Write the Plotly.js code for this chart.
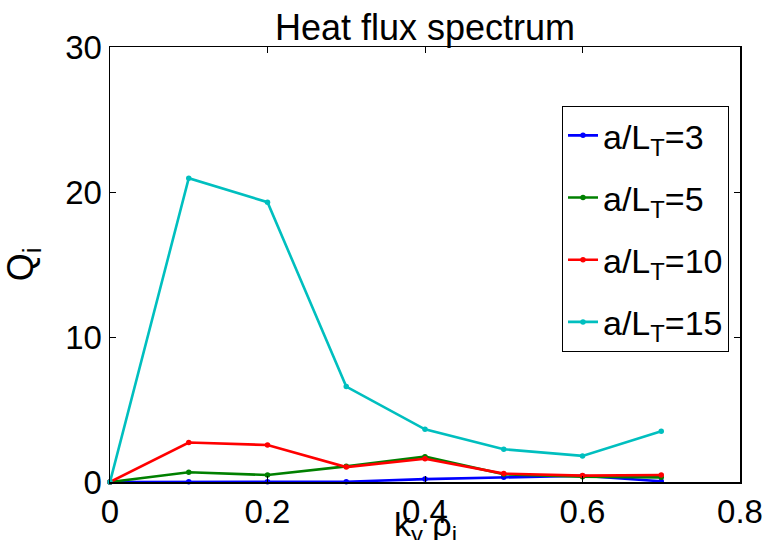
<!DOCTYPE html>
<html>
<head>
<meta charset="utf-8">
<script src="https://cdn.plot.ly/plotly-3.0.1.min.js"></script>
<style>html,body{margin:0;padding:0;background:#fff;}#chart{width:772px;height:540px;}</style>
</head>
<body>
<div id="chart"></div>
<script>
const kyRho = [0, 0.1, 0.2, 0.3, 0.4, 0.5, 0.6, 0.7];
const seriesNames = ["a/L<sub>T</sub>=3", "a/L<sub>T</sub>=5", "a/L<sub>T</sub>=10", "a/L<sub>T</sub>=15"];
const qLT3  = [0, 0.02, 0.02, 0.02, 0.2, 0.32, 0.43, 0.05];
const qLT5  = [0, 0.67, 0.48, 1.08, 1.75, 0.53, 0.37, 0.32];
const qLT10 = [0, 2.72, 2.55, 1.03, 1.6, 0.58, 0.44, 0.48];
const qLT15 = [0, 20.95, 19.3, 6.58, 3.63, 2.26, 1.8, 3.5];
const xTicks = [0, 0.2, 0.4, 0.6, 0.8];
const xTickText = ["0", "0.2", "0.4", "0.6", "0.8"];
const yTicks = [0, 10, 20, 30];
const yTickText = ["0", "10", "20", "30"];
const xTitle = "k<sub>y</sub> ρ<sub>i</sub>";
const yTitle = "Q<sub>i</sub>";
const chartTitle = "Heat flux spectrum";

const colors = ["#0000ff", "#008000", "#ff0000", "#00bfbf"];
const allSeries = [qLT3, qLT5, qLT10, qLT15];

const traces = allSeries.map((ys, i) => ({
  x: kyRho,
  y: ys,
  type: "scatter",
  mode: "lines+markers",
  name: seriesNames[i],
  legendgroup: "g" + i,
  line: {color: colors[i], width: 2.6},
  marker: {color: colors[i], size: 5.5},
  cliponaxis: false
}));

const fam = "Liberation Sans, Arial, Helvetica, sans-serif";
const f = (s) => ({family: fam, size: s, color: "#000"});

const layout = {
  width: 772,
  height: 540,
  margin: {l: 110, r: 32, t: 47, b: 58},
  paper_bgcolor: "#fff",
  plot_bgcolor: "#fff",
  showlegend: true,
  title: {
    text: chartTitle,
    font: f(36),
    x: 0.5, xref: "paper",
    y: 1 - 40/540, yref: "container", yanchor: "bottom"
  },
  xaxis: {
    range: [0, 0.8],
    tickvals: xTicks,
    ticktext: xTickText,
    ticks: "inside",
    ticklen: 6,
    tickwidth: 1,
    tickcolor: "#000",
    showline: true,
    linecolor: "#000",
    linewidth: 1.5,
    mirror: "ticks",
    showgrid: false,
    zeroline: false,
    tickfont: f(33)
  },
  yaxis: {
    range: [0, 30],
    tickvals: yTicks,
    ticktext: yTickText,
    ticks: "inside",
    ticklen: 6,
    tickwidth: 1,
    tickcolor: "#000",
    showline: true,
    linecolor: "#000",
    linewidth: 1.5,
    mirror: "ticks",
    showgrid: false,
    zeroline: false,
    tickfont: f(33),
    title: {text: yTitle, font: f(36), standoff: 22}
  },
  annotations: [{
    text: xTitle,
    font: f(34),
    xref: "paper", yref: "paper",
    x: 0.5, y: -(503 - 482) / 435,
    xanchor: "center", yanchor: "top",
    showarrow: false
  }],
  legend: {
    x: (562 - 110) / 630, y: 0.865,
    xanchor: "left", yanchor: "top",
    bordercolor: "#000",
    borderwidth: 1,
    bgcolor: "#fff",
    font: f(34),
    tracegroupgap: 15,
    itemwidth: 30
  }
};

Plotly.newPlot("chart", traces, layout, {displayModeBar: false, staticPlot: true});
</script>
</body>
</html>
